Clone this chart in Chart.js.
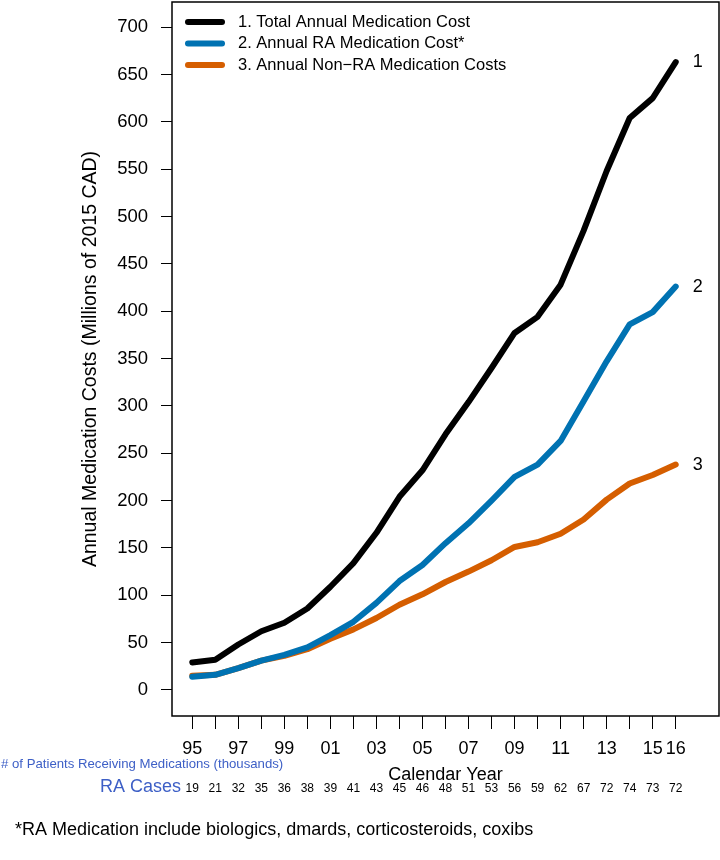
<!DOCTYPE html>
<html lang="en">
<head>
  <meta charset="UTF-8" />
  <title>Annual Medication Costs</title>
  <script src="https://cdn.jsdelivr.net/npm/chart.js"></script>
  <style>
    html, body { margin: 0; padding: 0; background: #fff; }
    canvas { display: block; }
  </style>
</head>
<body>
  <canvas id="chart" width="720" height="860"></canvas>

  <script>
    const years = [1995, 1996, 1997, 1998, 1999, 2000, 2001, 2002, 2003, 2004, 2005,
                   2006, 2007, 2008, 2009, 2010, 2011, 2012, 2013, 2014, 2015, 2016];
    const totalCost = [29, 32, 48, 62, 71, 86, 109, 134, 166, 204, 232,
                       270, 304, 340, 377, 394, 428, 485, 548, 604, 625, 663];
    const raCost = [14, 16, 23, 31, 37, 45, 58, 72, 92, 115, 132,
                    155, 176, 200, 225, 238, 263, 305, 347, 386, 399, 426];
    const nonRaCost = [15, 16, 23, 31, 36, 43, 54, 64, 76, 90, 101,
                       114, 125, 137, 151, 156, 165, 180, 201, 218, 227, 238];
    const raCases = [19, 21, 32, 35, 36, 38, 39, 41, 43, 45, 46,
                     48, 51, 53, 56, 59, 62, 67, 72, 74, 73, 72];
    const yTicks = [0, 50, 100, 150, 200, 250, 300, 350, 400, 450, 500, 550, 600, 650, 700];
    const xTickLabels = { 1995: '95', 1997: '97', 1999: '99', 2001: '01', 2003: '03', 2005: '05',
                          2007: '07', 2009: '09', 2011: '11', 2013: '13', 2015: '15', 2016: '16' };

    const FONT = "'Liberation Sans', Arial, Helvetica, sans-serif";
    const BLUE_TEXT = '#3d5fc6';

    function toPoints(values) {
      return years.map((yr, i) => ({ x: yr, y: values[i] }));
    }

    // box round the plot, like R's box()
    const frame = {
      id: 'frame',
      afterDraw(chart) {
        const { ctx, chartArea: a } = chart;
        ctx.save();
        ctx.strokeStyle = '#000';
        ctx.lineWidth = 1.5;
        ctx.strokeRect(a.left, a.top, a.right - a.left, a.bottom - a.top);
        ctx.restore();
      }
    };

    // legend inside the plot, top left
    const insideLegend = {
      id: 'insideLegend',
      afterDraw(chart) {
        const { ctx, chartArea: a } = chart;
        ctx.save();
        ctx.font = '16.5px ' + FONT;
        ctx.textBaseline = 'middle';
        ctx.lineCap = 'round';
        ctx.lineWidth = 6;
        chart.data.datasets.forEach((ds, i) => {
          const y = a.top + 20 + i * 21.5;
          ctx.strokeStyle = ds.borderColor;
          ctx.beginPath();
          ctx.moveTo(a.left + 16, y);
          ctx.lineTo(a.left + 50, y);
          ctx.stroke();
          ctx.fillStyle = '#000';
          ctx.fillText(ds.label, a.left + 66, y);
        });
        ctx.restore();
      }
    };

    // numbers at the line ends and the text under the axis
    const extras = {
      id: 'extras',
      afterDraw(chart) {
        const { ctx } = chart;
        const xs = chart.scales.x, ys = chart.scales.y;
        ctx.save();
        ctx.textBaseline = 'middle';

        ctx.font = '18px ' + FONT;
        ctx.fillStyle = '#000';
        ctx.textAlign = 'left';
        chart.data.datasets.forEach((ds, i) => {
          const last = ds.data[ds.data.length - 1];
          ctx.fillText(String(i + 1), xs.getPixelForValue(last.x) + 17, ys.getPixelForValue(last.y));
        });

        ctx.fillStyle = BLUE_TEXT;
        ctx.font = '13.2px ' + FONT;
        ctx.fillText('# of Patients Receiving Medications (thousands)', 1, 764);

        ctx.font = '18px ' + FONT;
        ctx.textAlign = 'right';
        ctx.fillText('RA Cases', 181, 787);

        ctx.fillStyle = '#000';
        ctx.font = '12px ' + FONT;
        ctx.textAlign = 'center';
        years.forEach((yr, i) => {
          ctx.fillText(String(raCases[i]), xs.getPixelForValue(yr), 789);
        });

        ctx.font = '18px ' + FONT;
        ctx.textAlign = 'left';
        ctx.fillText('*RA Medication include biologics, dmards, corticosteroids, coxibs', 15, 830);
        ctx.restore();
      }
    };

    const lineStyle = {
      borderWidth: 6,
      pointRadius: 0,
      borderCapStyle: 'round',
      borderJoinStyle: 'round',
      tension: 0,
      fill: false
    };

    new Chart(document.getElementById('chart'), {
      type: 'line',
      data: {
        datasets: [
          { label: '1. Total Annual Medication Cost', data: toPoints(totalCost), borderColor: '#000000', ...lineStyle },
          { label: '2. Annual RA Medication Cost*', data: toPoints(raCost), borderColor: '#0072B2', ...lineStyle },
          { label: '3. Annual Non\u2212RA Medication Costs', data: toPoints(nonRaCost), borderColor: '#D55E00', ...lineStyle }
        ]
      },
      options: {
        responsive: false,
        animation: false,
        devicePixelRatio: 1,
        layout: { padding: { left: 79, top: 2, right: 1, bottom: 74 } },
        plugins: {
          legend: { display: false },
          tooltip: { enabled: false }
        },
        scales: {
          x: {
            type: 'linear',
            min: 1994.12,
            max: 2017.88,
            afterBuildTicks: s => { s.ticks = years.map(v => ({ value: v })); },
            afterFit: s => { s.height = 70; s.paddingLeft = 0; s.paddingRight = 0; },
            grid: { drawOnChartArea: false, drawTicks: true, tickLength: 13, color: '#000', lineWidth: 1 },
            border: { display: false },
            ticks: {
              autoSkip: false,
              maxRotation: 0,
              padding: 9,
              color: '#000',
              font: { family: FONT, size: 18 },
              callback: v => xTickLabels[v] || ''
            },
            title: {
              display: true,
              text: 'Calendar Year',
              color: '#000',
              font: { family: FONT, size: 18 },
              padding: { top: 2, bottom: 0 }
            }
          },
          y: {
            min: -27.5,
            max: 726.5,
            afterBuildTicks: s => { s.ticks = yTicks.map(v => ({ value: v })); },
            afterFit: s => { s.width = 93; s.paddingTop = 0; s.paddingBottom = 0; },
            grid: { drawOnChartArea: false, drawTicks: true, tickLength: 11, color: '#000', lineWidth: 1 },
            border: { display: false },
            ticks: {
              padding: 13,
              color: '#000',
              font: { family: FONT, size: 18.5 }
            },
            title: {
              display: true,
              text: 'Annual Medication Costs (Millions of 2015 CAD)',
              color: '#000',
              font: { family: FONT, size: 19.5 },
              padding: { top: 0, bottom: 0 }
            }
          }
        }
      },
      plugins: [frame, insideLegend, extras]
    });
  </script>
</body>
</html>
